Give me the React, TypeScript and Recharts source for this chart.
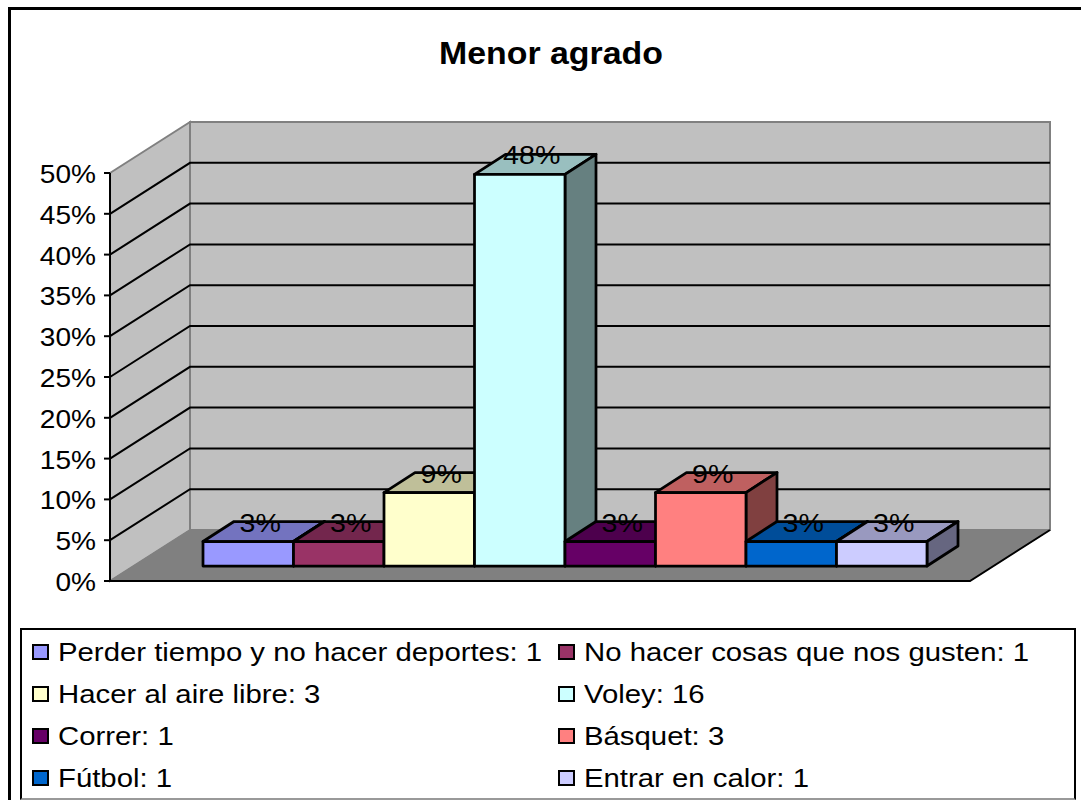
import { BarChart, Bar, XAxis, YAxis, CartesianGrid, Legend, LabelList } from 'recharts'

const categories = [
  'Perder tiempo y no hacer deportes: 1',
  'No hacer cosas que nos gusten: 1',
  'Hacer al aire libre: 3',
  'Voley: 16',
  'Correr: 1',
  'Básquet: 3',
  'Fútbol: 1',
  'Entrar en calor: 1',
]
const percents = [3, 3, 9, 48, 3, 9, 3, 3]
const colors = ['#9999ff', '#993366', '#ffffcc', '#ccffff', '#660066', '#ff8080', '#0066cc', '#ccccff']
const yTicks = [0, 5, 10, 15, 20, 25, 30, 35, 40, 45, 50]

const row: Record<string, number | string> = { name: 'Menor agrado' }
categories.forEach((c, i) => { row[c] = percents[i] })

const FONT = '"Liberation Sans", Arial, sans-serif'
const FONT_SIZE = 26
const TICK_STRETCH = 1.08
const LABEL_STRETCH = 1.1
const LEGEND_STRETCH = 1.128

// depth of the room and of the bars, as drawn by the old 3D chart
const ROOM_DX = 80
const ROOM_DY = -51
const BAR_OFF_X = 25
const BAR_OFF_Y = -15
const BAR_DX = 31
const BAR_DY = -20

const shade = (hex: string, k: number) => {
  const n = parseInt(hex.slice(1), 16)
  const c = [(n >> 16) & 255, (n >> 8) & 255, n & 255].map((v) => Math.round(v * k))
  return `rgb(${c[0]},${c[1]},${c[2]})`
}

function Box3D(props: any) {
  const { x, y, width, height, fill } = props
  const l = x + BAR_OFF_X
  const r = l + width
  const t = y + BAR_OFF_Y
  const b = t + height
  const line = { stroke: '#000', strokeWidth: 2.75, strokeLinejoin: 'round' as const }
  return (
    <g>
      <polygon points={`${l},${t} ${l + BAR_DX},${t + BAR_DY} ${r + BAR_DX},${t + BAR_DY} ${r},${t}`} fill={shade(fill, 0.75)} {...line} />
      <polygon points={`${r},${t} ${r + BAR_DX},${t + BAR_DY} ${r + BAR_DX},${b + BAR_DY} ${r},${b}`} fill={shade(fill, 0.5)} {...line} />
      <rect x={l} y={t} width={width} height={height} fill={fill} {...line} />
    </g>
  )
}

function BarValue(props: any) {
  const { x, y, width, value } = props
  const cx = x + BAR_OFF_X + width / 2 + 12
  const by = y + BAR_OFF_Y - 10
  return (
    <text transform={`translate(${cx},${by}) scale(${LABEL_STRETCH},1)`} textAnchor="middle" fontFamily={FONT} fontSize={FONT_SIZE} fill="#000">
      {value}%
    </text>
  )
}

function GridLine(props: any) {
  const { x1, y1, x2, index } = props
  const last = index === 0 || index === yTicks.length - 1
  if (last) return <g key={`grid-${index}`} />
  return (
    <polyline
      key={`grid-${index}`}
      points={`${x1},${y1} ${x1 + ROOM_DX},${y1 + ROOM_DY} ${x2 + ROOM_DX},${y1 + ROOM_DY}`}
      fill="none"
      stroke="#000"
      strokeWidth={2}
    />
  )
}

function YTick(props: any) {
  const { x, y, payload } = props
  return (
    <text transform={`translate(${x},${y + 10}) scale(${TICK_STRETCH},1)`} textAnchor="end" fontFamily={FONT} fontSize={FONT_SIZE} fill="#000">
      {payload.value}%
    </text>
  )
}

function LegendBox(props: any) {
  const items = props.payload || []
  return (
    <div style={{ position: 'relative', width: 1056, height: 172, boxSizing: 'border-box', border: '2px solid #000', borderBottomColor: '#999', background: '#fff', fontFamily: FONT, fontSize: FONT_SIZE }}>
      {items.map((item: any, i: number) => (
        <div key={item.value} style={{ position: 'absolute', left: i % 2 ? 536 : 10, top: 14 + Math.floor(i / 2) * 42, height: 16, whiteSpace: 'nowrap' }}>
          <span style={{ position: 'absolute', left: 0, top: 0, width: 17, height: 16, boxSizing: 'border-box', border: '2.5px solid #000', background: item.color }} />
          <span style={{ position: 'absolute', left: 26, top: -6, lineHeight: '28px', transform: `scaleX(${LEGEND_STRETCH})`, transformOrigin: 'left center', color: '#000' }}>
            {item.value}
          </span>
        </div>
      ))}
    </div>
  )
}

export default function App() {
  return (
    <div style={{ position: 'absolute', left: 0, top: 0, width: 1081, height: 800, overflow: 'hidden', background: '#fff' }}>
      {/* frame, title and the room sit behind the transparent chart */}
      <svg width={1081} height={800} style={{ position: 'absolute', left: 0, top: 0 }}>
        <rect x={9.5} y={8.5} width={1080} height={800} fill="#fff" stroke="#000" strokeWidth={3} />
        <text transform="translate(551,64) scale(1.075,1)" textAnchor="middle" fontFamily={FONT} fontWeight="bold" fontSize={31.5} fill="#000">
          Menor agrado
        </text>
        <polygon points="190,122 1050,122 1050,530 190,530" fill="#c0c0c0" stroke="#808080" strokeWidth={2} />
        <polygon points="110,173 190,122 190,530 110,581" fill="#c0c0c0" stroke="#808080" strokeWidth={2} />
        <polygon points="110,581 190,530 1050,530 970,581" fill="#808080" stroke="#808080" strokeWidth={1} />
        <polyline points="110,581 970,581 1050,530" fill="none" stroke="#000" strokeWidth={2} />
      </svg>
      <div style={{ position: 'absolute', left: 0, top: 0 }}>
        <BarChart
          width={1081}
          height={800}
          data={[row]}
          barGap={0}
          barSize={90.5}
          margin={{ top: 173, right: 111, bottom: 219, left: 10 }}
        >
          <CartesianGrid vertical={false} horizontal={GridLine} />
          <XAxis dataKey="name" hide />
          <YAxis
            width={100}
            domain={[0, 50]}
            ticks={yTicks}
            interval={0}
            tick={YTick}
            tickSize={6}
            tickMargin={8}
            axisLine={{ stroke: '#000', strokeWidth: 2 }}
            tickLine={{ stroke: '#000', strokeWidth: 2 }}
          />
          {categories.map((c, i) => (
            <Bar key={c} dataKey={c} name={c} fill={colors[i]} shape={Box3D} isAnimationActive={false}>
              <LabelList dataKey={c} content={BarValue} />
            </Bar>
          ))}
          <Legend
            layout="horizontal"
            verticalAlign="middle"
            align="center"
            itemSorter={null}
            content={LegendBox}
            wrapperStyle={{ left: 20, top: 628, width: 1056, height: 172, right: 'auto', bottom: 'auto' }}
          />
        </BarChart>
      </div>
    </div>
  )
}
